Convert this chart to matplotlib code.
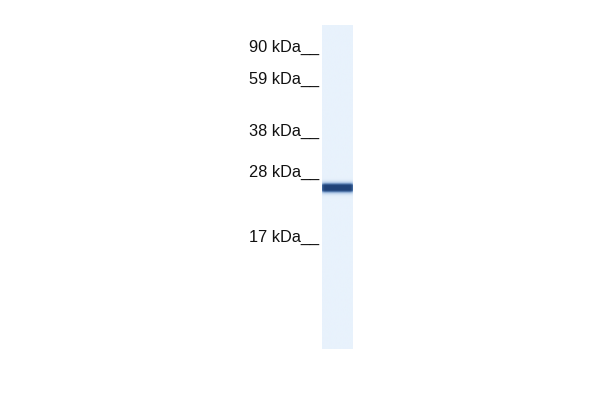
import matplotlib
matplotlib.use("Agg")
import matplotlib.pyplot as plt
import numpy as np
from matplotlib.colors import LinearSegmentedColormap

# marker ladder (label, row in pixels of the blot)
MARKER_LABELS = ["90 kDa", "59 kDa", "38 kDa", "28 kDa", "17 kDa"]
MARKER_ROWS = [47, 79, 131, 172, 237]

# lane and band
LANE_LEFT, LANE_RIGHT = 322, 353
LANE_TOP, LANE_BOTTOM = 25, 349
BAND_ROWS = [188]
BAND_STRENGTH = [1.0]

fig = plt.figure(figsize=(6, 4), dpi=100)
ax = fig.add_axes([0, 0, 1, 1])
ax.set_xlim(0, 600)
ax.set_ylim(400, 0)
ax.axis("off")

cmap = LinearSegmentedColormap.from_list(
    "blot", ["#e8f2fc", "#a9c4e4", "#456da4", "#1f4278"])

rows = np.arange(LANE_TOP, LANE_BOTTOM + 1, 0.5)
profile = np.zeros_like(rows, dtype=float)
for r, s in zip(BAND_ROWS, BAND_STRENGTH):
    profile = np.maximum(profile, s * np.exp(-0.5 * ((rows - r) / 3.0) ** 2))
profile = np.clip(profile * 1.4, 0, 1)
cols = np.linspace(0, 1, 40)
edge = np.clip(np.minimum(cols, 1 - cols) / 0.08, 0, 1) ** 0.6
img = profile[:, None] * (0.7 + 0.3 * edge[None, :])
ax.imshow(img, cmap=cmap, vmin=0, vmax=1, aspect="auto",
          extent=(LANE_LEFT, LANE_RIGHT, LANE_BOTTOM, LANE_TOP),
          interpolation="bilinear")

for label, row in zip(MARKER_LABELS, MARKER_ROWS):
    ax.text(319, row, label + "__", ha="right", va="center",
            fontsize=11.8, family="Liberation Sans", color="#111111")

fig.savefig("out.png", dpi=100, facecolor="white")
